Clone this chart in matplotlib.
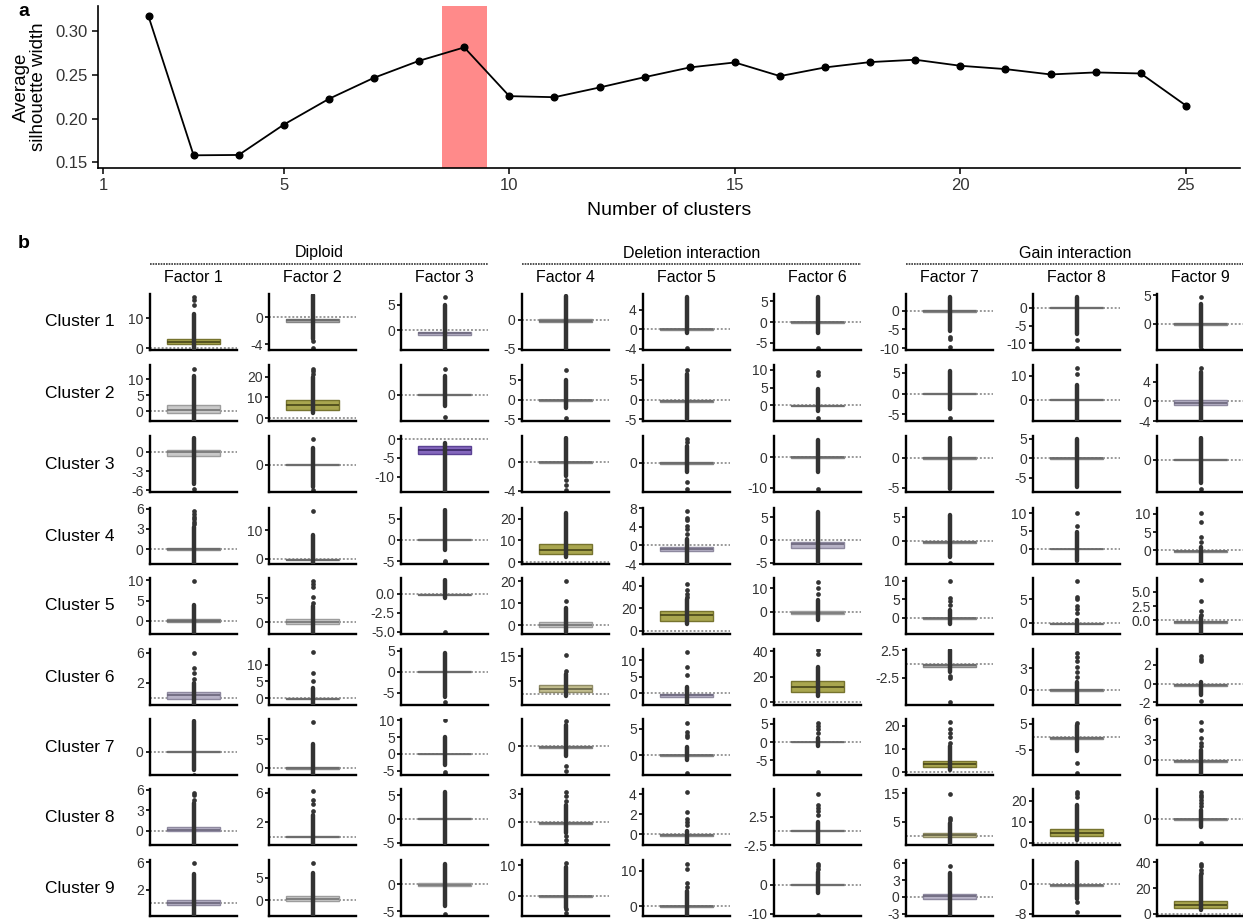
import numpy as np
import matplotlib.pyplot as plt
from matplotlib.lines import Line2D

plt.rcParams['font.family'] = ['Liberation Sans', 'DejaVu Sans']
plt.rcParams['axes.unicode_minus'] = False

W, H = 1243, 921

# ---------------- panel a : silhouette width ----------------
n_clusters = list(range(2, 26))
silhouette = [0.3168, 0.158, 0.1584, 0.1931, 0.2225, 0.2466, 0.266, 0.2813,
              0.2256, 0.2244, 0.2355, 0.2473, 0.2584, 0.2641, 0.2485, 0.2584,
              0.2645, 0.2672, 0.2603, 0.2565, 0.2504, 0.2527, 0.2515, 0.2149]
best_k = 9
a_xticks = [1, 5, 10, 15, 20, 25]
a_yticks = [0.15, 0.20, 0.25, 0.30]

# ---------------- panel b : factor scores per cluster ----------------
groups = ['Diploid', 'Deletion interaction', 'Gain interaction']
factors = ['Factor %d' % i for i in range(1, 10)]
clusters = ['Cluster %d' % i for i in range(1, 10)]

# y limits of each small panel (rows = clusters, cols = factors)
ylims = [
    [(-0.55, 18), (-4.85, 3.5), (-3.8, 7.1), (-5.2, 4.5), (-4.3, 7.3), (-6.75, 6.8), (-10.5, 4.4), (-11.9, 3.9), (-4.6, 5.2)],
    [(-3.1, 14.4), (-1.4, 25.6), (-5.2, 6.0), (-5.4, 8.75), (-5.4, 8.75), (-4.5, 11.4), (-6.6, 6.9), (-8.8, 14.5), (-3.9, 7.35)],
    [(-6.3, 2.5), (-4.3, 4.5), (-14, 0.8), (-4.2, 3.7), (-4.3, 3.9), (-11.4, 6.9), (-5.7, 3.6), (-8.7, 5.7), (-8.9, 6.5)],
    [(-2.2, 6.1), (-1.8, 17.9), (-5.7, 7.5), (-0.8, 24.9), (-4.0, 8.1), (-5.3, 7.0), (-4.9, 7.0), (-4.2, 11.4), (-3.7, 11.6)],
    [(-3.3, 10.6), (-2.4, 9.2), (-5.3, 2.1), (-4.1, 21.5), (-2.7, 47), (-9.5, 14.3), (-4.3, 10.7), (-2.4, 9.6), (-2.4, 7.4)],
    [(-1.0, 6.5), (-2.1, 14.7), (-7.9, 5.4), (-4.5, 17.8), (-3.6, 13.5), (-2.1, 41.9), (-7.5, 2.7), (-2.2, 5.75), (-2.3, 3.7)],
    [(-5, 7), (-1.3, 8.5), (-6.3, 10.4), (-4.6, 4.4), (-3.8, 6.9), (-9, 6.3), (-1.5, 23), (-14.7, 6.9), (-2.25, 6.1)],
    [(-2.1, 6.1), (-1.1, 6.5), (-5.5, 6.3), (-2.4, 3.5), (-1.1, 4.5), (-2.5, 7.4), (-3.0, 16.4), (-1.1, 25.5), (-4.7, 5.3)],
    [(-1.85, 6.3), (-3.5, 9), (-5.9, 4.5), (-6.6, 11.8), (-2.8, 13.1), (-10.8, 8.5), (-3.4, 6.6), (-8.6, 6.6), (-1.8, 41.8)],
]

yticks = [
    [[0, 10], [-4, 0], [0, 5], [-5, 0], [-4, 0, 4], [-5, 0, 5], [-10, -5, 0], [-10, -5, 0], [0, 5]],
    [[0, 5, 10], [0, 10, 20], [0], [-5, 0, 5], [-5, 0, 5], [0, 5, 10], [-5, 0, 5], [0, 10], [-4, 0, 4]],
    [[-6, -3, 0], [0], [-10, -5, 0], [-4, 0], [0], [-10, 0], [-5, 0], [-5, 0, 5], [0]],
    [[0, 3, 6], [0, 10], [-5, 0, 5], [0, 10, 20], [-4, 0, 4, 8], [-5, 0, 5], [0, 5], [0, 5, 10], [0, 5, 10]],
    [[0, 5, 10], [0, 5], [-5.0, -2.5, 0.0], [0, 10, 20], [0, 20, 40], [0, 10], [0, 5, 10], [0, 5], [0.0, 2.5, 5.0]],
    [[2, 6], [0, 5, 10], [-5, 0, 5], [5, 15], [0, 5, 10], [0, 20, 40], [-2.5, 2.5], [0, 3], [-2, 0, 2]],
    [[0], [0, 5], [-5, 0, 5, 10], [0], [0, 5], [-5, 0, 5], [0, 10, 20], [-5, 5], [0, 3, 6]],
    [[0, 3, 6], [2, 6], [-5, 0, 5], [0, 3], [0, 2, 4], [-2.5, 2.5], [5, 15], [0, 10, 20], [0]],
    [[2, 6], [0, 5], [-5, 0], [0, 10], [0, 10], [-10, 0], [-3, 0, 3, 6], [-8, 0], [0, 20, 40]],
]

# box statistics (q1, median, q3)
boxes = [
    [(1.45, 2.0, 3.0), (-0.65, -0.45, -0.25), (-0.9, -0.5, -0.2), (-0.3, -0.1, 0.1), (-0.1, 0, 0.1), (-0.1, 0, 0.1), (-0.3, -0.1, 0.1), (-0.15, 0, 0.15), (-0.2, 0, 0.1)],
    [(-0.5, 0.2, 1.8), (4.0, 6.2, 8.5), (-0.1, 0.05, 0.2), (-0.3, -0.15, 0.0), (-0.6, -0.3, 0.0), (-0.25, -0.1, 0.05), (-0.15, 0, 0.15), (-0.15, 0, 0.15), (-0.75, -0.3, 0.2)],
    [(-0.7, 0.0, 0.3), (-0.1, 0, 0.1), (-4.0, -2.8, -1.8), (-0.15, 0, 0.1), (-0.15, 0, 0.1), (-0.15, 0, 0.15), (-0.2, -0.05, 0.1), (-0.15, 0, 0.15), (-0.1, 0, 0.1)],
    [(-0.1, 0.05, 0.2), (-0.4, -0.3, -0.15), (-0.1, 0, 0.1), (3.8, 5.7, 8.5), (-1.2, -0.7, -0.3), (-1.8, -0.9, -0.4), (-0.5, -0.3, -0.1), (-0.15, 0, 0.1), (-0.3, -0.2, -0.05)],
    [(-0.2, 0, 0.3), (-0.3, 0.1, 0.7), (-0.2, -0.1, 0.0), (-0.8, 0.2, 1.5), (9.1, 13.9, 17.6), (-1.2, -0.5, 0.1), (-0.15, 0, 0.1), (-0.3, -0.2, -0.05), (-0.45, -0.3, -0.1)],
    [(-0.2, 0.3, 0.7), (-0.3, -0.2, -0.05), (-0.15, -0.05, 0.1), (0.8, 1.8, 3.5), (-1.2, -0.6, -0.2), (8, 12, 17), (-0.5, -0.3, -0.1), (-0.15, 0, 0.1), (-0.3, -0.2, -0.05)],
    [(-0.1, 0, 0.2), (-0.2, -0.1, 0.05), (-0.1, 0, 0.1), (-0.25, -0.1, 0.05), (-0.1, 0, 0.1), (-0.1, 0, 0.1), (2.2, 3.2, 4.5), (-0.8, -0.5, -0.2), (-0.35, -0.2, -0.05)],
    [(-0.1, 0.1, 0.6), (-0.05, 0, 0.08), (-0.1, 0, 0.1), (-0.15, -0.1, 0.0), (-0.2, -0.1, 0.0), (-0.1, 0, 0.1), (-0.3, 0.4, 1.0), (3.2, 4.4, 6.3), (-0.2, -0.1, 0.0)],
    [(-0.2, 0.1, 0.5), (-0.1, 0.3, 0.9), (-0.4, -0.1, 0.3), (-0.2, -0.1, 0.05), (-0.2, -0.1, 0.0), (-0.1, 0, 0.1), (-0.3, 0.1, 0.6), (-0.45, -0.3, -0.15), (4.5, 6.5, 10)],
]

# box fill class: O olive, o light olive, G light grey, g grey, Q grey-purple, P purple
fills = [
    ['O', 'g', 'Q', 'g', 'g', 'g', 'g', 'g', 'g'],
    ['G', 'O', 'g', 'g', 'g', 'g', 'g', 'g', 'Q'],
    ['G', 'g', 'P', 'g', 'g', 'g', 'g', 'g', 'g'],
    ['g', 'g', 'g', 'O', 'Q', 'Q', 'g', 'g', 'g'],
    ['g', 'G', 'g', 'G', 'O', 'G', 'g', 'g', 'g'],
    ['Q', 'g', 'g', 'o', 'Q', 'O', 'g', 'g', 'g'],
    ['g', 'g', 'g', 'g', 'g', 'g', 'O', 'g', 'g'],
    ['Q', 'g', 'g', 'g', 'g', 'g', 'o', 'O', 'g'],
    ['Q', 'G', 'G', 'g', 'g', 'g', 'Q', 'g', 'O'],
]

# dense run of outlying points (low, high)
strips = [
    [(-0.3, 11.5), (-3.2, 3.3), (-3.8, 5.0), (-5.1, 4.1), (-0.7, 6.6), (-2.7, 6.0), (-5.5, 3.6), (-7.3, 3.0), (-4.0, 3.5)],
    [(-3.0, 11.1), (2.5, 20.0), (-2.2, 3.7), (-2.2, 4.9), (-4.9, 6.6), (-1.8, 4.5), (-3.8, 5.5), (-8.5, 6.0), (-3.9, 6.0)],
    [(-5.0, 2.2), (-3.5, 2.6), (-14, -1.0), (-2.0, 3.4), (-1.3, 2.5), (-5.0, 5.5), (-5.2, 3.3), (-7.5, 4.9), (-6.3, 6.0)],
    [(-2.2, 3.3), (-1.8, 8.3), (-2.5, 7.0), (2.2, 22.5), (-4.0, 1.5), (-4.8, 6.2), (-3.5, 5.5), (-3.5, 4.6), (-3.4, 1.0)],
    [(-3.0, 4.0), (-2.4, 3.5), (-0.6, 1.8), (-3.0, 8.0), (6.0, 28.0), (-3.5, 5.0), (-1.5, 2.0), (-2.4, 0.5), (-2.4, 0.5)],
    [(-1.0, 2.0), (-2.0, 2.9), (-6.0, 4.4), (-1.0, 8.0), (-3.6, 2.0), (5.0, 28.0), (-1.5, 2.5), (-2.2, 1.0), (-1.2, 0.2)],
    [(-4.0, 6.5), (-1.3, 4.2), (-3.3, 4.9), (-1.6, 3.5), (-1.0, 1.5), (-1.0, 1.0), (0.5, 11.0), (-5.5, 4.5), (-2.2, 1.5)],
    [(-2.0, 4.0), (-1.1, 3.0), (-5.0, 5.6), (-1.1, 1.8), (-1.1, 0.3), (-2.3, 1.5), (-3.0, 4.5), (1.5, 18.0), (-1.5, 1.5)],
    [(-1.85, 4.2), (-3.5, 6.0), (-4.1, 3.8), (-3.9, 9.6), (-2.8, 4.2), (-3.0, 4.5), (-3.3, 4.3), (-4.0, 6.0), (2.5, 30.0)],
]

# isolated outliers
outliers = [
    [[14.3, 15.9, 16.9], [-3.5, -4.5], [6.5], [], [-3.9], [-6.2], [-7.0, -7.5, -9.8], [-9.2, -11.2], [4.6, -4.4]],
    [[13.0], [21.5, 22.5, 23.5], [5.2, -4.5], [7.4, -4.7], [7.6], [8.6, 9.5, -3.6], [-5.8], [10.7, 13.4], [6.7]],
    [[-5.8], [4.0, -4.0], [], [-2.5, -3.2, -3.9], [3.0, 3.4, -2.8, -3.9], [-10.5], [], [], [-8.0]],
    [[3.7, 4.0, 4.4, 4.8, 5.2, 5.6], [16.9], [-4.9, -5.2], [], [2.5, 3.5, 4.2, 5.5, 6.0, 7.4], [], [-4.6], [6.5, 10.1], [2.3, 3.7, 7.8, 10.3]],
    [[9.8], [4.0, 5.3, 7.3, 8.0, 8.6], [-5.0], [11.0, 20.0], [30, 33, 36, 42], [7.5, 10.0, 12.5], [3.5, 4.5, 5.3, 9.8], [2.0, 3.0, 3.5, 5.0, 5.5, 9.0], [1.0, 1.6, 3.3, 7.1]],
    [[2.5, 3.3, 3.9, 6.0], [5.0, 7.5, 13.8], [-7.3], [9.0, 15.5], [5.5, 8.0, 12.5], [38, 41], [-2.3, -2.6, -7.0], [1.8, 2.5, 3.2, 4.0, 4.6, 5.2], [2.4, 2.6, 3.0, -1.9]],
    [[-4.9], [8.0], [10.0, -5.4, -6.0], [4.0, -3.2, -4.0], [3.4, 3.8, 4.5, 6.2, -3.4], [2.5, 3.5, 4.5, 5.3, -8.3], [12.5, 15.0, 17.0, 18.5, 21.5], [5.5, -10.0, -14.0], [2.0, 2.5, 3.2, 4.5, 5.6]],
    [[4.5, 5.2, 5.5], [3.5, 4.5, 5.0, 6.2], [], [2.2, 2.8, 3.2, -1.5, -1.9, -2.3], [0.9, 1.2, 1.5, 2.2, 4.2], [2.8, 3.5, 4.0, 4.5, 6.5], [5.5, 6.5, 14.7], [21.5, 23.0, 24.0], [2.2, 2.8, 3.3, 3.8, 4.3, 4.7, -4.3]],
    [[5.8], [8.3], [-5.5], [10.9, -4.3, -5.5], [5.5, 6.5, 10.5, 12.0], [5.5, 6.5, 7.2, -10.3], [5.6], [-4.8, -7.6], [32, 34, 37.5, 38.5]],
]

palette = {
    'O': ('#a9a64f', '#76732e', '#4f4d1c'),
    'o': ('#c3be8f', '#8f8b66', '#6a6748'),
    'G': ('#c9c9c9', '#9d9d9d', '#7a7a7a'),
    'g': ('#a8a8a8', '#858585', '#6a6a6a'),
    'Q': ('#b7b2c6', '#8e899f', '#6f6a80'),
    'P': ('#8467bd', '#5b4294', '#3f2c6e'),
}

# layout (pixels)
col_left = [150, 269, 401, 522, 643, 774, 906, 1033, 1157]
row_top = [294, 365, 436, 508, 578, 649, 719, 789, 860]
panel_w, panel_h = 87, 56
group_cols = [(0, 2), (3, 5), (6, 8)]


def add_px_axes(fig, left, top, width, height):
    return fig.add_axes([left / W, 1 - (top + height) / H, width / W, height / H])


def tick_text(ticks):
    if all(float(t).is_integer() for t in ticks):
        return ['%d' % t for t in ticks]
    return ['%.1f' % t for t in ticks]


fig = plt.figure(figsize=(W / 100, H / 100), dpi=100)

# ---- panel a
ax = add_px_axes(fig, 98, 6, 1142, 162)
ax.axvspan(best_k - 0.5, best_k + 0.5, color='#ff8a8a', lw=0, zorder=0)
ax.plot(n_clusters, silhouette, color='black', lw=1.3, marker='o', ms=4.8, zorder=3)
ax.set_xlim(0.88, 26.2)
ax.set_ylim(0.1435, 0.3286)
ax.set_xticks(a_xticks)
ax.set_yticks(a_yticks)
ax.set_yticklabels(['%.2f' % v for v in a_yticks])
for s in ['top', 'right']:
    ax.spines[s].set_visible(False)
for s in ['left', 'bottom']:
    ax.spines[s].set_linewidth(1.2)
ax.tick_params(labelsize=12, width=1.1, length=4, colors='black', labelcolor='#333333')
ax.set_xlabel('Number of clusters', fontsize=14, labelpad=6)
ax.set_ylabel('Average\nsilhouette width', fontsize=13.5, labelpad=6, linespacing=1.0)
fig.text(18 / W, 1 - 12 / H, 'a', fontsize=14, fontweight='bold', va='center')

# ---- panel b
fig.text(18 / W, 1 - 243 / H, 'b', fontsize=14, fontweight='bold', va='center')

for g, (c0, c1) in enumerate(group_cols):
    x0 = col_left[c0]
    x1 = col_left[c1] + panel_w
    fig.text((x0 + x1) / 2 / W, 1 - 253 / H, groups[g], fontsize=11.5, ha='center', va='center')
    fig.add_artist(Line2D([x0 / W, x1 / W], [1 - 264 / H, 1 - 264 / H], color='#333333',
                          lw=1.2, ls=(0, (1, 0.6))))

for j in range(9):
    fig.text((col_left[j] + panel_w / 2) / W, 1 - 278 / H, factors[j], fontsize=11.5,
             ha='center', va='center')

for i in range(9):
    fig.text(45 / W, 1 - (row_top[i] + panel_h / 2) / H, clusters[i], fontsize=12.5,
             ha='left', va='center')
    for j in range(9):
        bx = add_px_axes(fig, col_left[j], row_top[i], panel_w, panel_h)
        q1, med, q3 = boxes[i][j]
        lo, hi = strips[i][j]
        fill, edge, mcol = palette[fills[i][j]]
        bx.axhline(0, color='#999999', lw=1.4, ls=(0, (1, 1)), zorder=1)
        stats = [dict(q1=q1, med=med, q3=q3, whislo=q1, whishi=q3, fliers=outliers[i][j])]
        bx.bxp(stats, positions=[0.5], widths=0.6, patch_artist=True, showcaps=False,
               boxprops=dict(facecolor=fill, edgecolor=edge, lw=1.0),
               medianprops=dict(color=mcol, lw=1.3),
               whiskerprops=dict(lw=0),
               flierprops=dict(marker='o', markersize=3.4, markerfacecolor='#333333',
                               markeredgecolor='none'),
               zorder=2, manage_ticks=False)
        bx.vlines(0.5, lo, hi, color='#333333', lw=3.2, capstyle='round', zorder=4)
        bx.set_xlim(0, 1)
        bx.set_ylim(*ylims[i][j])
        bx.set_xticks([])
        bx.set_yticks(yticks[i][j])
        bx.set_yticklabels(tick_text(yticks[i][j]))
        for s in ['top', 'right']:
            bx.spines[s].set_visible(False)
        for s in ['left', 'bottom']:
            bx.spines[s].set_linewidth(1.7)
        bx.tick_params(axis='y', labelsize=10, width=1.2, length=3, pad=1.5,
                       labelcolor='#333333')
        bx.patch.set_visible(False)

fig.savefig('out.png', dpi=100)
